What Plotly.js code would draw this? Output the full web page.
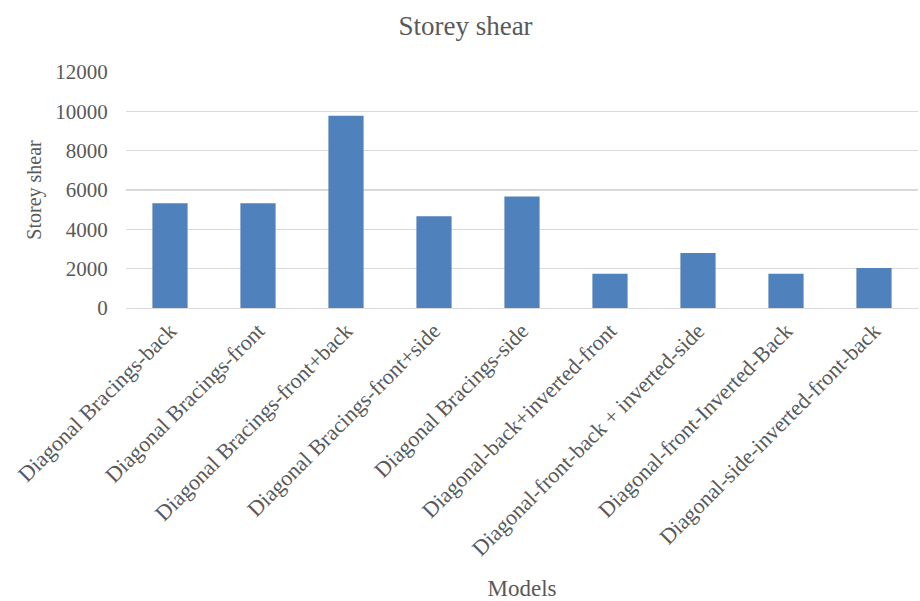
<!DOCTYPE html>
<html>
<head>
<meta charset="utf-8">
<script src="https://cdn.plot.ly/plotly-3.0.1.min.js"></script>
<style>
  html, body { margin: 0; padding: 0; background: #ffffff; }
  #chart { width: 920px; height: 601px; }
</style>
</head>
<body>
<div id="chart"></div>
<script>
// Storey shear per bracing model
const models = [
  "Diagonal Bracings-back",
  "Diagonal Bracings-front",
  "Diagonal Bracings-front+back",
  "Diagonal Bracings-front+side",
  "Diagonal Bracings-side",
  "Diagonal-back+inverted-front",
  "Diagonal-front-back + inverted-side",
  "Diagonal-front-Inverted-Back",
  "Diagonal-side-inverted-front-back"
];
const storeyShear = [5320, 5320, 9770, 4670, 5670, 1740, 2800, 1740, 2040];
const yTicks = [0, 2000, 4000, 6000, 8000, 10000, 12000];

const textColor = "#595959";
const serif = "Liberation Serif, Times New Roman, serif";

const trace = {
  type: "bar",
  x: models,
  y: storeyShear,
  marker: { color: "#4f81bd" },
  hoverinfo: "x+y"
};

const layout = {
  width: 920,
  height: 601,
  margin: { l: 126, r: 2, t: 72, b: 293, pad: 0 },
  paper_bgcolor: "#ffffff",
  plot_bgcolor: "#ffffff",
  bargap: 0.6,
  showlegend: false,
  font: { family: serif, color: textColor, size: 21 },
  title: {
    text: "Storey shear",
    font: { family: serif, size: 27, color: textColor },
    x: 0.506,
    xref: "container",
    xanchor: "center",
    y: 0.958,
    yref: "container",
    yanchor: "middle"
  },
  xaxis: {
    type: "category",
    tickangle: -45,
    tickfont: { family: serif, size: 22, color: textColor },
    showgrid: false,
    showline: true,
    linecolor: "#d9d9d9",
    linewidth: 1.3,
    ticks: "",
    automargin: false,
    title: {
      text: "Models",
      font: { family: serif, size: 23, color: textColor },
      standoff: 21
    }
  },
  yaxis: {
    range: [0, 12000],
    tickvals: yTicks,
    ticktext: yTicks.map(String),
    tickfont: { family: serif, size: 21, color: textColor },
    showgrid: true,
    gridcolor: "#d9d9d9",
    gridwidth: 1.3,
    zeroline: false,
    showline: false,
    ticks: "outside",
    ticklen: 13,
    tickcolor: "rgba(0,0,0,0)",
    automargin: false,
    title: {
      text: "Storey shear",
      font: { family: serif, size: 20, color: textColor },
      standoff: 8
    }
  }
};

Plotly.newPlot("chart", [trace], layout, { displayModeBar: false, staticPlot: true });
</script>
</body>
</html>
